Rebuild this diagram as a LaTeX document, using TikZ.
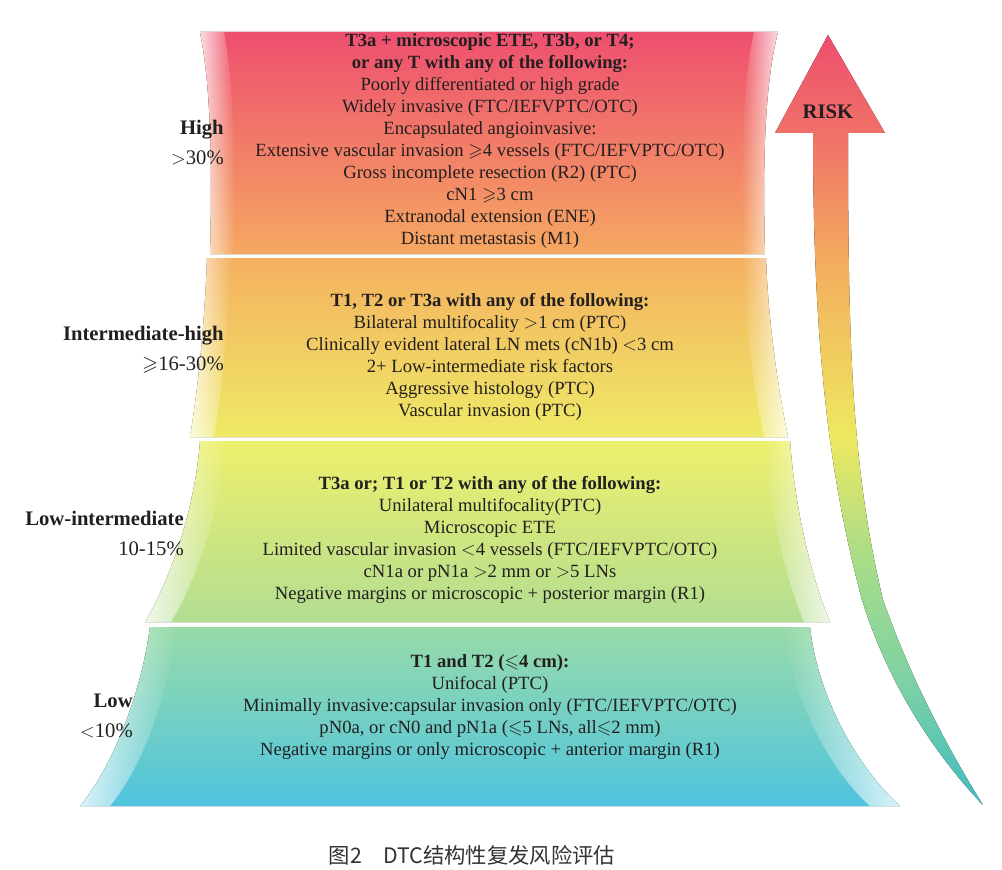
\documentclass[tikz,border=0pt]{standalone}
\usepackage{amssymb}
\usepackage{fontspec}
\setmainfont{Liberation Serif}
\newfontfamily\cjkfont{Noto Sans CJK SC}
\usetikzlibrary{fadings}
\definecolor{cInk}{HTML}{231F20}
\definecolor{cCap}{HTML}{333333}
\definecolor{cBandAt}{HTML}{EE4F6F}
\definecolor{cBandAb}{HTML}{F5A862}
\definecolor{cBandBt}{HTML}{F5B060}
\definecolor{cBandBb}{HTML}{EEEA66}
\definecolor{cBandCt}{HTML}{EEF06C}
\definecolor{cBandCb}{HTML}{B2DD92}
\definecolor{cBandDt}{HTML}{98DBA8}
\definecolor{cBandDb}{HTML}{4FC4DF}
\definecolor{cRiskTeal}{HTML}{40BCC4}
\definecolor{cRiskMint}{HTML}{7ED1A4}
\definecolor{cRiskLime}{HTML}{A8DD88}
\definecolor{cRiskYel}{HTML}{EEE860}
\definecolor{cRiskOra}{HTML}{F3AE5E}
\definecolor{cRiskSal}{HTML}{F07468}
\definecolor{cRiskRed}{HTML}{EE4E6E}
\pgfdeclareverticalshading{riskshade}{100bp}{color(0bp)=(cRiskTeal); color(25bp)=(cRiskTeal);
  color(33bp)=(cRiskMint); color(41bp)=(cRiskLime); color(49bp)=(cRiskYel); color(60bp)=(cRiskOra);
  color(68bp)=(cRiskSal); color(75bp)=(cRiskRed); color(100bp)=(cRiskRed)}
\tikzset{
  body/.style  ={align=center, inner sep=0pt, font=\fontsize{14pt}{16.5pt}\selectfont},
  tier/.style  ={align=right, anchor=east, inner sep=0pt, font=\fontsize{15.5pt}{22.5pt}\selectfont},
  glossL/.style={fill=white, fill opacity=0.8, path fading=east},
  glossR/.style={fill=white, fill opacity=0.8, path fading=west},
}

\begin{document}
\begin{tikzpicture}[x=0.75pt, y=-0.75pt, every node/.style={text=cInk}]
  \useasboundingbox (0,0) rectangle (1002,870);
  \fill[white] (0,0) rectangle (1002,870);
  % bands
  \fill[top color=cBandAt, bottom color=cBandAb] (200,32) .. controls (212,90) and (212,180) .. (210,254)
    -- (765,254) .. controls (763,180) and (763,90) .. (778,32) -- cycle;
  \fill[glossL] (200,32) .. controls (212,90) and (212,180) .. (210,254)
    -- (233,254) .. controls (235,180) and (235,90) .. (224,32) -- cycle;
  \fill[glossR] (778,32) .. controls (763,90) and (763,180) .. (765,254)
    -- (743,254) .. controls (741,180) and (741,90) .. (754,32) -- cycle;

  \fill[top color=cBandBt, bottom color=cBandBb] (207,258) .. controls (205,320) and (198,390) .. (190,437)
    -- (788,437) .. controls (778,390) and (768,320) .. (766,258) -- cycle;
  \fill[glossL] (207,258) .. controls (205,320) and (198,390) .. (190,437)
    -- (214,437) .. controls (222,390) and (229,320) .. (231,258) -- cycle;
  \fill[glossR] (766,258) .. controls (768,320) and (778,390) .. (788,437)
    -- (764,437) .. controls (754,390) and (744,320) .. (742,258) -- cycle;

  \fill[top color=cBandCt, bottom color=cBandCb] (200,441) .. controls (195,510) and (170,580) .. (145,622)
    -- (830,622) .. controls (812,580) and (795,510) .. (790,441) -- cycle;
  \fill[glossL] (200,441) .. controls (195,510) and (170,580) .. (145,622)
    -- (171,622) .. controls (196,580) and (221,510) .. (226,441) -- cycle;
  \fill[glossR] (790,441) .. controls (795,510) and (812,580) .. (830,622)
    -- (804,622) .. controls (786,580) and (769,510) .. (764,441) -- cycle;

  \fill[top color=cBandDt, bottom color=cBandDb] (150,627) .. controls (140,700) and (110,770) .. (80,806)
    -- (900,806) .. controls (860,770) and (818,700) .. (810,627) -- cycle;
  \fill[glossL] (150,627) .. controls (140,700) and (110,770) .. (80,806)
    -- (110,806) .. controls (140,770) and (168,700) .. (176,627) -- cycle;
  \fill[glossR] (810,627) .. controls (818,700) and (860,770) .. (900,806)
    -- (870,806) .. controls (830,770) and (792,700) .. (784,627) -- cycle;

  % risk arrow
  \fill[shading=riskshade] (828,35) -- (885,133) -- (848,133) .. controls (848,350) and (852,470) .. (883,600)
    .. controls (915,690) and (955,760) .. (983,805) .. controls (940,760) and (890,690) .. (862,600)
    .. controls (830,480) and (813,350) .. (813,133) -- (775,133) -- cycle;
  \node[font=\bfseries\fontsize{15.5pt}{18pt}\selectfont] (risk) at (828,112) {RISK};

  \node[body] (textHigh) at (490,141) {\textbf{T3a + microscopic ETE, T3b, or T4;}\\
    \textbf{or any T with any of the following:}\\
    Poorly differentiated or high grade\\
    Widely invasive (FTC/IEFVPTC/OTC)\\
    Encapsulated angioinvasive:\\
    Extensive vascular invasion $\geqslant$4 vessels (FTC/IEFVPTC/OTC)\\
    Gross incomplete resection (R2) (PTC)\\
    cN1 $\geqslant$3 cm\\
    Extranodal extension (ENE)\\
    Distant metastasis (M1)};
  \node[body] (textIH) at (490,357) {\textbf{T1, T2 or T3a with any of the following:}\\
    Bilateral multifocality $>$1 cm (PTC)\\
    Clinically evident lateral LN mets (cN1b) $<$3 cm\\
    2+ Low-intermediate risk factors\\
    Aggressive histology (PTC)\\
    Vascular invasion (PTC)};
  \node[body] (textLI) at (490,540) {\textbf{T3a or; T1 or T2 with any of the following:}\\
    Unilateral multifocality(PTC)\\
    Microscopic ETE\\
    Limited vascular invasion $<$4 vessels (FTC/IEFVPTC/OTC)\\
    cN1a or pN1a $>$2 mm or $>$5 LNs\\
    Negative margins or microscopic + posterior margin (R1)};
  \node[body] (textLow) at (490,707) {\textbf{T1 and T2 ($\leqslant$4 cm):}\\
    Unifocal (PTC)\\
    Minimally invasive:capsular invasion only (FTC/IEFVPTC/OTC)\\
    pN0a, or cN0 and pN1a ($\leqslant$5 LNs, all$\leqslant$2 mm)\\
    Negative margins or only microscopic + anterior margin (R1)};

  \node[tier] (tierHigh) at (224,143) {\textbf{High}\\$>$30\%};
  \node[tier] (tierIH) at (224,350) {\textbf{Intermediate-high}\\$\geqslant$16-30\%};
  \node[tier] (tierLI) at (184,533) {\textbf{Low-intermediate}\\10-15\%};
  \node[tier] (tierLow) at (133,716) {\textbf{Low}\\$<$10\%};

  \node[font=\cjkfont\fontsize{16pt}{18pt}\selectfont, text=cCap] (caption) at (472,855) {图2\quad DTC结构性复发风险评估};
\end{tikzpicture}
\end{document}
